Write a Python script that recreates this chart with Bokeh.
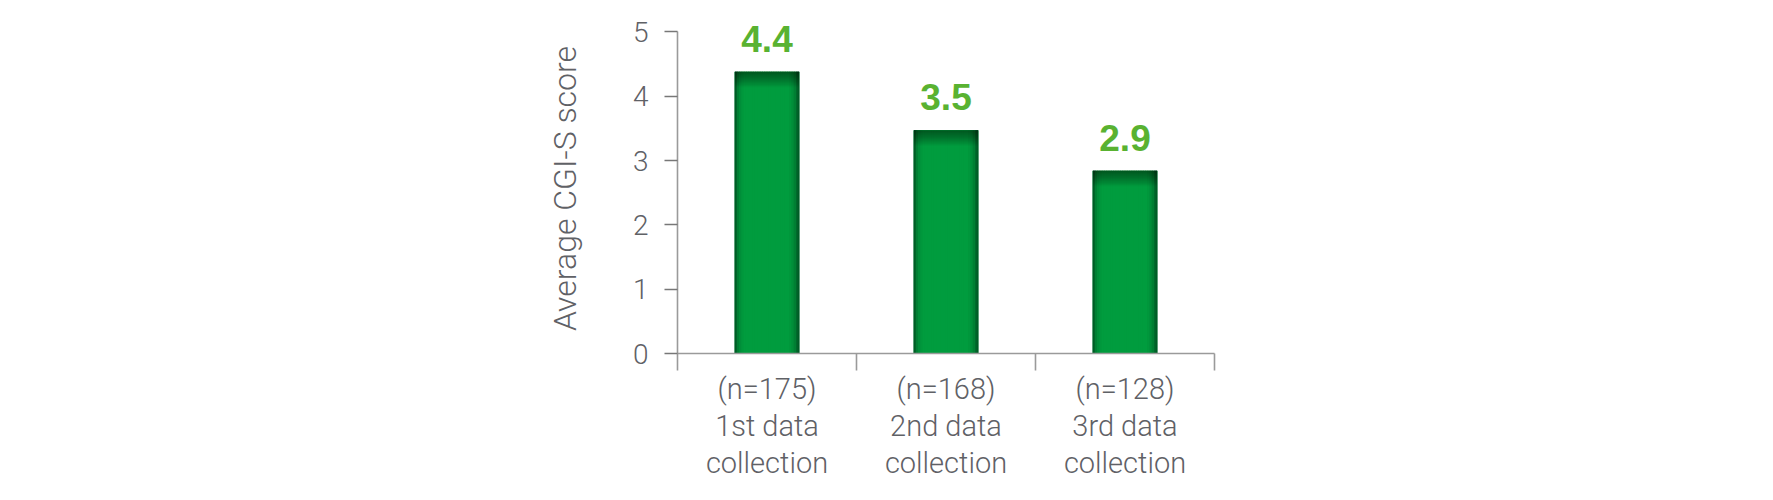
from bokeh.plotting import figure
from bokeh.models import Range1d, FixedTicker, ColumnDataSource, LabelSet
from bokeh.core.properties import value
from bokeh.embed import file_html
from bokeh.resources import INLINE

# ---- data ----
categories = ["1st data\ncollection", "2nd data\ncollection", "3rd data\ncollection"]
n_values = [175, 168, 128]
scores = [4.38, 3.47, 2.84]
score_labels = ["4.4", "3.5", "2.9"]
y_ticks = [0, 1, 2, 3, 4, 5]

LIGHT = "Roboto Light"
GRAY = "#5f6166"
AXIS = "#9a9a9a"

Y_TOP = 5          # axis end
Y_VIEW = 5.13      # small headroom so the tallest value label is not clipped
PX_PER_UNIT = 322 / 5
FRAME_W = 537
FRAME_H = int(round(PX_PER_UNIT * Y_VIEW))
TOP_BORDER = 31 - int(round(PX_PER_UNIT * (Y_VIEW - Y_TOP)))
HEIGHT = 490

p = figure(width=1757, height=HEIGHT, output_backend="svg", toolbar_location=None,
           x_range=Range1d(0, len(categories)), y_range=Range1d(0, Y_VIEW),
           min_border_left=677, min_border_right=1757 - 677 - FRAME_W,
           min_border_top=TOP_BORDER, min_border_bottom=HEIGHT - TOP_BORDER - FRAME_H)
p.outline_line_color = None
p.xgrid.visible = False
p.ygrid.visible = False
p.background_fill_color = "white"
p.border_fill_color = "white"

# ---- gradient bars (vertical strips + darkened top) ----
bar_w = 0.357
nstrip = 28
px_per_x = FRAME_W / len(categories)
edge_px = 11.0
dark = (0x00, 0x5e, 0x27)
mid = (0x00, 0x9c, 0x3e)
sx, sw, stop, scol = [], [], [], []
for i, v in enumerate(scores):
    c = i + 0.5
    for k in range(nstrip):
        off = (k + 0.5) / nstrip - 0.5
        dist_px = (0.5 - abs(off)) * bar_w * px_per_x
        t = min(dist_px / edge_px, 1.0)
        t = 1 - (1 - t) ** 2
        col = tuple(int(round(d + (m - d) * t)) for d, m in zip(dark, mid))
        sx.append(c + off * bar_w)
        sw.append(bar_w / nstrip * 1.6)
        stop.append(v)
        scol.append("#%02x%02x%02x" % col)
strips = ColumnDataSource(dict(x=sx, w=sw, top=stop, color=scol))
centers = [i + 0.5 for i in range(len(scores))]
p.vbar(x=centers, width=bar_w, top=scores, bottom=0, fill_color="#006b2c", line_color=None)
p.vbar(x="x", width="w", top="top", bottom=0, fill_color="color", line_color=None, source=strips)
p.vbar(x=[c - bar_w / 2 + 0.004 for c in centers], width=0.008, top=scores, bottom=0,
       fill_color="#005c26", line_color=None)
p.vbar(x=[c + bar_w / 2 - 0.004 for c in centers], width=0.008, top=scores, bottom=0,
       fill_color="#005c26", line_color=None)
for k in range(14):
    depth = (k + 1) * 1.1 / PX_PER_UNIT
    p.vbar(x=centers, width=bar_w, top=scores,
           bottom=[v - depth for v in scores], fill_color="black", fill_alpha=0.035, line_color=None)

# ---- value labels ----
lab_src = ColumnDataSource(dict(x=centers, y=scores, t=score_labels))
p.add_layout(LabelSet(x="x", y="y", text="t", source=lab_src, y_offset=20,
                      text_align="center", text_baseline="alphabetic",
                      text_font=value("Liberation Sans"), text_font_style="bold",
                      text_font_size="37px", text_color="#59b231"))

# ---- y axis ----
ya = p.yaxis[0]
ya.ticker = FixedTicker(ticks=y_ticks, minor_ticks=[])
ya.bounds = (0, Y_TOP)
ya.axis_line_color = AXIS
ya.axis_line_width = 1.6
ya.major_tick_line_color = "#777777"
ya.major_tick_line_width = 1.4
ya.major_tick_out = 13
ya.major_tick_in = 0
ya.minor_tick_line_color = None
ya.major_label_text_font = LIGHT
ya.major_label_text_font_size = "28px"
ya.major_label_text_color = GRAY
ya.major_label_standoff = 16
ya.axis_label = "Average CGI-S score"
ya.axis_label_text_font = LIGHT
ya.axis_label_text_font_size = "32px"
ya.axis_label_text_font_style = "normal"
ya.axis_label_text_color = GRAY
ya.axis_label_standoff = 46

# ---- x axis: boundary ticks as minor ticks, labels at centres ----
xa = p.xaxis[0]
xa.ticker = FixedTicker(ticks=centers, minor_ticks=list(range(len(categories) + 1)))
xa.major_label_overrides = {c: "(n=%d)\n%s" % (n, cat) for c, n, cat in zip(centers, n_values, categories)}
xa.axis_line_color = AXIS
xa.axis_line_width = 1.6
xa.major_tick_line_color = None
xa.major_tick_out = 0
xa.major_tick_in = 0
xa.minor_tick_line_color = AXIS
xa.minor_tick_line_width = 1.6
xa.minor_tick_out = 17
xa.minor_tick_in = 0
xa.major_label_text_font = LIGHT
xa.major_label_text_font_size = "29px"
xa.major_label_text_line_height = 1.1
xa.major_label_text_color = GRAY
xa.major_label_standoff = 1

open("out.html", "w").write(file_html(p, INLINE))
